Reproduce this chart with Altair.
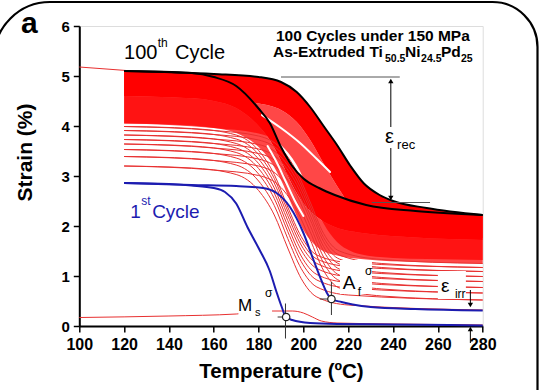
import altair as alt
import pandas as pd

FONT = "Liberation Sans"
RED = "#ff0000"
LINE_RED = "#e83030"
BLUE = "#1c1cb0"

# ---------------- data ----------------
# 1st cycle (blue): cooling and heating branches
c1_cool_T = [120, 140, 150, 160, 165, 170, 175, 180, 185, 188, 190.5, 192, 195, 203, 215, 240, 280]
c1_cool_S = [2.86, 2.84, 2.81, 2.76, 2.68, 2.45, 1.98, 1.56, 1.10, 0.68, 0.36, 0.19, 0.12, 0.06, 0.04, 0.03, 0.01]
c1_heat_T = [120, 150, 170, 182, 188, 194, 200, 204.5, 208.5, 210.5, 212.5, 217, 222, 230, 250, 280]
c1_heat_S = [2.86, 2.82, 2.80, 2.76, 2.66, 2.38, 1.86, 1.32, 0.86, 0.66, 0.54, 0.48, 0.43, 0.38, 0.34, 0.31]

# heating family band (upper edge = 100th cycle heating)
hb_T = [120, 160, 180, 190, 197, 203, 209, 215, 221, 227, 234, 240, 255, 280]
hb_top = [5.10, 5.04, 4.98, 4.88, 4.68, 4.38, 4.00, 3.62, 3.20, 2.85, 2.62, 2.50, 2.36, 2.22]
hb_mid = [4.60, 4.53, 4.45, 4.32, 4.08, 3.72, 3.25, 2.80, 2.40, 2.12, 1.95, 1.87, 1.80, 1.75]
hb_low = [4.05, 3.96, 3.85, 3.62, 3.22, 2.66, 2.05, 1.68, 1.50, 1.42, 1.38, 1.36, 1.34, 1.32]

# cooling family band (upper edge = 100th cycle cooling)
cb_T = [120, 150, 160, 170, 180, 185, 190, 195, 200, 207, 214, 228, 250, 280]
cb_top = [5.10, 5.06, 4.98, 4.80, 4.35, 4.06, 3.58, 3.20, 2.95, 2.76, 2.62, 2.42, 2.30, 2.22]
cb_mid = [4.60, 4.56, 4.50, 4.36, 4.00, 3.72, 3.30, 2.82, 2.45, 2.15, 1.98, 1.85, 1.77, 1.72]
cb_low = [4.05, 4.01, 3.96, 3.86, 3.58, 3.32, 2.92, 2.40, 1.92, 1.55, 1.42, 1.33, 1.28, 1.25]

# gaps between neighbouring groups of cycles
gap_a_T = [181.5, 190, 198.5, 206, 211.9]
gap_a_S = [4.22, 3.96, 3.66, 3.34, 3.08]
gap_b_T = [184, 188, 192, 196, 200]
gap_b_S = [3.60, 3.28, 2.90, 2.52, 2.20]

# early cycles 2-9, drawn as single lines
rc_T = [120, 150, 170, 180, 187, 193, 199, 206, 220, 280]
rc_S = [
    [3.20, 3.16, 3.03, 2.71, 2.22, 1.56, 0.95, 0.58, 0.42, 0.32],
    [3.39, 3.35, 3.22, 2.90, 2.41, 1.75, 1.15, 0.78, 0.62, 0.52],
    [3.53, 3.49, 3.36, 3.04, 2.55, 1.89, 1.29, 0.92, 0.76, 0.66],
    [3.64, 3.60, 3.47, 3.15, 2.66, 2.00, 1.40, 1.03, 0.87, 0.77],
    [3.73, 3.69, 3.56, 3.25, 2.76, 2.11, 1.52, 1.15, 0.99, 0.89],
    [3.82, 3.78, 3.65, 3.34, 2.86, 2.21, 1.62, 1.25, 1.09, 0.99],
    [3.91, 3.87, 3.74, 3.43, 2.95, 2.30, 1.71, 1.34, 1.19, 1.09],
    [3.99, 3.95, 3.82, 3.51, 3.03, 2.38, 1.79, 1.42, 1.27, 1.17],
]
rh_T = [120, 160, 180, 190, 197, 203, 209, 216, 235, 280]
rh_S = [
    [3.20, 3.12, 3.01, 2.77, 2.32, 1.73, 1.11, 0.76, 0.60, 0.52],
    [3.39, 3.31, 3.20, 2.95, 2.49, 1.89, 1.26, 0.91, 0.74, 0.66],
    [3.53, 3.45, 3.34, 3.09, 2.62, 2.01, 1.38, 1.02, 0.85, 0.77],
    [3.64, 3.56, 3.45, 3.20, 2.73, 2.13, 1.50, 1.14, 0.97, 0.89],
    [3.73, 3.65, 3.54, 3.29, 2.83, 2.22, 1.59, 1.24, 1.07, 0.99],
    [3.82, 3.74, 3.63, 3.38, 2.92, 2.32, 1.69, 1.34, 1.17, 1.09],
    [3.91, 3.83, 3.72, 3.47, 3.01, 2.40, 1.77, 1.42, 1.25, 1.17],
    [3.99, 3.91, 3.80, 3.55, 3.09, 2.48, 1.85, 1.50, 1.33, 1.25],
]

# initial heating before cycling, and start of the loaded segment
init_T = [100, 140, 170, 186, 195, 200, 204, 208, 215, 240, 280]
init_S = [0.17, 0.20, 0.24, 0.30, 0.30, 0.26, 0.18, 0.10, 0.06, 0.04, 0.02]
load_T = [100, 121]
load_S = [5.18, 5.11]

# ---------------- tables ----------------
def long_table(curves):
    rows = []
    for name, ts, ss in curves:
        for t, s in zip(ts, ss):
            rows.append({"curve": name, "T": t, "S": s})
    return pd.DataFrame(rows)


red_lines = long_table(
    [(f"cool{i}", rc_T, s) for i, s in enumerate(rc_S)]
    + [(f"heat{i}", rh_T, s) for i, s in enumerate(rh_S)]
    + [("init", init_T, init_S), ("load", load_T, load_S)]
)
gap_lines = long_table([("gap_a", gap_a_T, gap_a_S), ("gap_b", gap_b_T, gap_b_S)])
blue_lines = long_table([("c1cool", c1_cool_T, c1_cool_S), ("c1heat", c1_heat_T, c1_heat_S)])
black_lines = long_table([("c100cool", cb_T, cb_top), ("c100heat", hb_T, hb_top)])

heat_band = pd.DataFrame({"T": hb_T, "top": hb_top, "mid": hb_mid, "low": hb_low})
cool_band = pd.DataFrame({"T": cb_T, "top": cb_top, "mid": cb_mid, "low": cb_low})

# ---------------- scales / axes ----------------
x_scale = alt.Scale(domain=[100, 280], nice=False, zero=False)
y_scale = alt.Scale(domain=[0, 6], nice=False, zero=False)

x_axis = alt.Axis(
    values=list(range(100, 281, 20)), title="Temperature (ºC)", grid=False,
    labelFont=FONT, labelFontSize=16, labelFontWeight="bold", labelColor="black",
    labelPadding=4, labelFlush=False, labelOverlap=False,
    tickSize=6, tickWidth=1.5, tickColor="black", domainColor="black", domainWidth=2,
    titleFont=FONT, titleFontSize=20.5, titleFontWeight="bold", titleColor="black", titlePadding=9,
)
y_axis = alt.Axis(
    values=list(range(0, 7)), title="Strain (%)", grid=False,
    labelFont=FONT, labelFontSize=15, labelFontWeight="bold", labelColor="black",
    labelPadding=4, labelFlush=False, labelOverlap=False,
    tickSize=6, tickWidth=1.5, tickColor="black", domainColor="black", domainWidth=2,
    titleFont=FONT, titleFontSize=21, titleFontWeight="bold", titleColor="black",
    titleX=-44, titleY=126,
)


def X(field="T"):
    return alt.X(f"{field}:Q", scale=x_scale, axis=x_axis)


def Y(field="S"):
    return alt.Y(f"{field}:Q", scale=y_scale, axis=y_axis)


# ---------------- layers ----------------
heat_light = alt.Chart(heat_band).mark_area(interpolate="monotone", color=RED, opacity=0.72).encode(
    x=X(), y=Y("low"), y2="mid")
cool_light = alt.Chart(cool_band).mark_area(interpolate="monotone", color=RED, opacity=0.72).encode(
    x=X(), y=Y("low"), y2="mid")
heat_solid = alt.Chart(heat_band).mark_area(interpolate="monotone", color=RED).encode(
    x=X(), y=Y("mid"), y2="top")
cool_solid = alt.Chart(cool_band).mark_area(interpolate="monotone", color=RED).encode(
    x=X(), y=Y("mid"), y2="top")

reds = alt.Chart(red_lines).mark_line(interpolate="monotone", color=LINE_RED, strokeWidth=1).encode(
    x=X(), y=Y(), detail="curve:N")

gaps = alt.Chart(gap_lines).mark_line(interpolate="monotone", color="white", strokeWidth=2,
                                      strokeCap="round").encode(x=X(), y=Y(), detail="curve:N")

# white label backgrounds
boxes = pd.DataFrame({
    "T": [216.3, 260.0, 171.0], "T2": [230.6, 272.5, 186.0],
    "S": [0.64, 0.54, 0.17], "S2": [1.32, 1.10, 0.72],
})
box_layer = alt.Chart(boxes).mark_rect(color="white").encode(
    x=X(), x2="T2:Q", y=Y(), y2="S2:Q")

blues = alt.Chart(blue_lines).mark_line(interpolate="monotone", color=BLUE, strokeWidth=2).encode(
    x=X(), y=Y(), detail="curve:N")
blacks = alt.Chart(black_lines).mark_line(interpolate="monotone", color="black", strokeWidth=2).encode(
    x=X(), y=Y(), detail="curve:N")

# reference lines, arrow shafts and tangent construction lines
segs = pd.DataFrame({
    "T":  [190, 230.5, 239, 239, 274.5, 274.5, 212.5, 207.3, 192.0, 188.5],
    "T2": [243, 256.5, 239, 239, 274.5, 274.5, 212.5, 213.0, 192.0, 194.0],
    "S":  [4.98, 2.47, 4.90, 3.56, 0.72, -0.34, 0.22, 0.54, -0.25, 0.18],
    "S2": [4.98, 2.47, 3.98, 2.55, 0.44, -0.08, 0.88, 0.54, 0.45, 0.18],
    "c":  ["#555555", "#555555", "black", "black", "black", "black", "#333333", "#333333", "#333333", "#333333"],
})
seg_layer = alt.Chart(segs).mark_rule(strokeWidth=1).encode(
    x=X(), x2="T2:Q", y=Y(), y2="S2:Q", color=alt.Color("c:N", scale=None))

heads = pd.DataFrame({
    "T": [239, 239, 274.5, 274.5],
    "S": [4.90, 2.56, 0.42, -0.06],
    "shape": ["triangle-up", "triangle-down", "triangle-down", "triangle-up"],
})
head_layer = alt.Chart(heads).mark_point(filled=True, color="black", size=28, opacity=1).encode(
    x=X(), y=Y(), shape=alt.Shape("shape:N", scale=None))

marks_pts = pd.DataFrame({"T": [212.5, 192.3], "S": [0.54, 0.18]})
pt_layer = alt.Chart(marks_pts).mark_point(
    shape="circle", filled=True, fill="white", stroke="#222222", strokeWidth=1.2, size=55, opacity=1
).encode(x=X(), y=Y())

# text pieces (main text, superscripts and subscripts)
normal_txt = pd.DataFrame([
    ("100", 120.0, 5.34, 20, "black"),
    ("th", 135.0, 5.58, 12, "black"),
    ("Cycle", 142.7, 5.34, 20, "black"),
    ("1", 122.7, 2.16, 19, BLUE),
    ("st", 127.6, 2.42, 12, BLUE),
    ("Cycle", 132.5, 2.16, 19, BLUE),
    ("M", 170.8, 0.30, 17, "black"),
    ("s", 178.4, 0.20, 11, "black"),
    ("σ", 182.9, 0.58, 12, "black"),
    ("A", 217.6, 0.74, 19, "black"),
    ("f", 224.3, 0.60, 12, "black"),
    ("σ", 227.5, 1.02, 12, "black"),
    ("ε", 236.4, 3.66, 20, "black"),
    ("rec", 241.8, 3.54, 13, "black"),
    ("ε", 261.4, 0.68, 19, "black"),
    ("irr", 267.6, 0.56, 12, "black"),
], columns=["txt", "T", "S", "fs", "col"])
normal_layer = alt.Chart(normal_txt).mark_text(font=FONT, align="left", baseline="alphabetic").encode(
    x=X(), y=Y(), text="txt:N", size=alt.Size("fs:Q", scale=None), color=alt.Color("col:N", scale=None))

bold_txt = pd.DataFrame([
    ("As-Extruded Ti", 186.4, 5.39, 15.5),
    ("50.5", 236.4, 5.28, 10.5),
    ("Ni", 245.3, 5.39, 15.5),
    ("24.5", 252.5, 5.28, 10.5),
    ("Pd", 261.4, 5.39, 15.5),
    ("25", 270.3, 5.28, 10.5),
    ("a", 74.0, 5.86, 30),
], columns=["txt", "T", "S", "fs"])
bold_layer = alt.Chart(bold_txt).mark_text(
    font=FONT, fontWeight="bold", align="left", baseline="alphabetic", color="black"
).encode(x=X(), y=Y(), text="txt:N", size=alt.Size("fs:Q", scale=None))

head_txt = pd.DataFrame({"txt": ["100 Cycles under 150 MPa"], "T": [231.0], "S": [5.706]})
head_layer_txt = alt.Chart(head_txt).mark_text(
    font=FONT, fontWeight="bold", fontSize=15.5, align="center", baseline="alphabetic", color="black"
).encode(x=X(), y=Y(), text="txt:N")

# rounded panel frame around the whole figure
frame = alt.Chart(pd.DataFrame({"k": [0]})).mark_rect(
    filled=False, stroke="black", strokeWidth=2.2, cornerRadiusTopLeft=56, cornerRadiusTopRight=45
).encode(x=alt.value(-85.3), x2=alt.value(458.2), y=alt.value(-24), y2=alt.value(394))

chart = alt.layer(
    heat_light, cool_light, heat_solid, cool_solid, reds, gaps, box_layer, blues, blacks,
    seg_layer, head_layer, pt_layer, normal_layer, bold_layer, head_layer_txt, frame,
).properties(
    width=403.4, height=300,
    autosize=alt.AutoSizeParams(type="none"),
    padding={"left": 79.3, "top": 26, "right": 56.3, "bottom": 64},
).configure_view(
    stroke="#444444", strokeWidth=1.5
).configure(background="white")

chart.save("out.html", embed_options={"renderer": "svg", "actions": False})
